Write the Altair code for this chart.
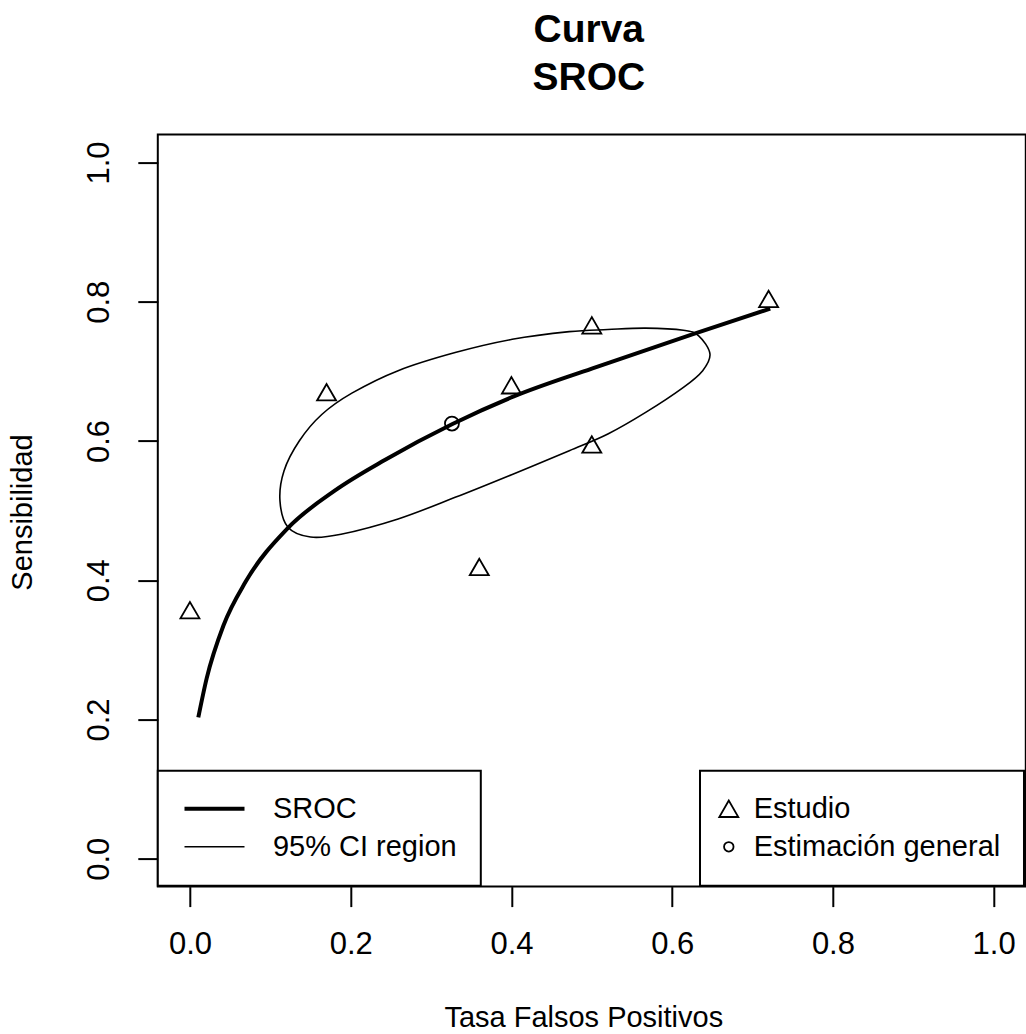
import altair as alt
import pandas as pd

# ---------------- data ----------------
# Estudios (triángulos)
est_fpr = [0.00, 0.17, 0.36, 0.40, 0.50, 0.50, 0.72]
est_sens = [0.357, 0.670, 0.419, 0.680, 0.766, 0.595, 0.804]
# Estimación general (círculo)
gen_fpr = [0.326]
gen_sens = [0.625]
# Curva SROC
sroc_fpr = [0.0104, 0.0208, 0.0417, 0.0694, 0.1215, 0.1806, 0.243, 0.326,
            0.403, 0.500, 0.625, 0.722]
sroc_sens = [0.203, 0.259, 0.335, 0.398, 0.4745, 0.529, 0.573, 0.624,
             0.664, 0.704, 0.753, 0.790]
# Región de confianza 95%
ci_fpr = [0.112, 0.117, 0.136, 0.164, 0.202, 0.259, 0.330, 0.401, 0.472, 0.520,
          0.567, 0.614, 0.633, 0.647, 0.638, 0.614, 0.567, 0.520, 0.472, 0.401,
          0.330, 0.259, 0.188, 0.150, 0.122]
ci_sens = [0.514, 0.557, 0.600, 0.638, 0.669, 0.701, 0.727, 0.746, 0.757, 0.760,
           0.762, 0.759, 0.751, 0.725, 0.701, 0.677, 0.641, 0.610, 0.586, 0.552,
           0.519, 0.488, 0.466, 0.462, 0.476]
x_ticks = [0.0, 0.2, 0.4, 0.6, 0.8, 1.0]
y_ticks = [0.0, 0.2, 0.4, 0.6, 0.8, 1.0]
line_series = ["SROC", "95% CI region"]
point_types = ["Estudio", "Estimación general"]

pts = pd.DataFrame({
    "fpr": est_fpr + gen_fpr,
    "sens": est_sens + gen_sens,
    "tipo": [point_types[0]] * len(est_fpr) + [point_types[1]] * len(gen_fpr),
})
sroc = pd.DataFrame({"fpr": sroc_fpr, "sens": sroc_sens, "serie": line_series[0]})
ci = pd.DataFrame({"fpr": ci_fpr, "sens": ci_sens, "serie": line_series[1]})

FONT = "Liberation Sans"
CIRC = "M0.5,0A0.5,0.5,0,1,1,-0.5,0A0.5,0.5,0,1,1,0.5,0Z"

x_enc = alt.X(
    "fpr:Q",
    scale=alt.Scale(domain=[-0.04, 1.04], nice=False, zero=False),
    axis=alt.Axis(
        values=x_ticks, format=".1f", domain=False, grid=False,
        tickSize=20, tickWidth=2, tickColor="black",
        labelFont=FONT, labelFontSize=31, labelColor="black",
        labelPadding=38.4, labelBaseline="middle", labelFlush=False,
        labelOverlap=False,
        title="Tasa Falsos Positivos", titleFont=FONT, titleFontSize=29,
        titleFontWeight="normal", titleColor="black",
        titleX=425.5, titleY=131.4, titleAlign="center", titleBaseline="middle",
    ),
)
y_enc = alt.Y(
    "sens:Q",
    scale=alt.Scale(domain=[-0.04, 1.04], nice=False, zero=False),
    axis=alt.Axis(
        values=y_ticks, format=".1f", domain=False, grid=False,
        tickSize=20, tickWidth=2, tickColor="black",
        labelFont=FONT, labelFontSize=31, labelColor="black",
        labelAngle=270, labelAlign="center", labelBaseline="middle",
        labelPadding=38.3, labelFlush=False, labelOverlap=False,
        title="Sensibilidad", titleFont=FONT, titleFontSize=29,
        titleFontWeight="normal", titleColor="black", titleAngle=270,
        titleX=-135.3, titleY=377.4, titleAlign="center", titleBaseline="middle",
    ),
)

line_legend = alt.Legend(
    title=None, orient="none", legendX=0, legendY=636.1, direction="vertical",
    strokeColor="black", fillColor="white", padding=23.6, rowPadding=8,
    symbolType="M-1.14,0L4.86,0", symbolSize=400, symbolStrokeColor="black",
    labelFont=FONT, labelFontSize=29, labelColor="black",
    labelOffset=62.6, labelLimit=500,
)
sw_enc = alt.StrokeWidth(
    "serie:N",
    scale=alt.Scale(type="point", domain=line_series, range=[4, 1.6], padding=0),
    legend=line_legend,
)

sroc_layer = alt.Chart(sroc).mark_line(
    color="black", interpolate="monotone"
).encode(x=x_enc, y=y_enc, strokeWidth=sw_enc)

ci_layer = alt.Chart(ci).transform_window(
    orden="row_number()"
).mark_line(
    color="black", interpolate="cardinal-closed"
).encode(x=x_enc, y=y_enc, strokeWidth=sw_enc, order=alt.Order("orden:Q"))

pt_legend = alt.Legend(
    title=None, orient="none", legendX=542.2, legendY=636.1, direction="vertical",
    strokeColor="black", fillColor="white", padding=23.6, rowPadding=8,
    symbolSize=361, symbolOffset=-9.3, symbolStrokeWidth=1.8,
    symbolStrokeColor="black", symbolFillColor="transparent",
    labelFont=FONT, labelFontSize=29, labelColor="black",
    labelOffset=10.4, labelLimit=500,
)
pts_layer = alt.Chart(pts).transform_calculate(
    tam="datum.tipo == 'Estudio' ? 361 : 784"
).mark_point(
    filled=False, color="black", strokeWidth=1.8, opacity=1
).encode(
    x=x_enc, y=y_enc,
    shape=alt.Shape("tipo:N", scale=alt.Scale(domain=point_types,
                                               range=["triangle-up", CIRC]),
                    legend=pt_legend),
    size=alt.Size("tam:Q", scale=None),
)

chart = alt.layer(ci_layer, sroc_layer, pts_layer).properties(
    width=868, height=752,
    title=alt.TitleParams(
        text=["Curva", "SROC"], font=FONT, fontSize=39, fontWeight="bold",
        color="black", anchor="middle", frame="group", baseline="alphabetic",
        lineHeight=47.5, offset=5.6, dx=-3,
    ),
    padding={"left": 157.8, "top": 134.6, "right": 0, "bottom": 147},
    autosize=alt.AutoSizeParams(type="none"),
    background="white",
).configure_view(
    stroke="black", strokeWidth=2
).configure_legend(
    strokeWidth=2
)

chart.save("out.html", embed_options={"renderer": "svg", "actions": False})
